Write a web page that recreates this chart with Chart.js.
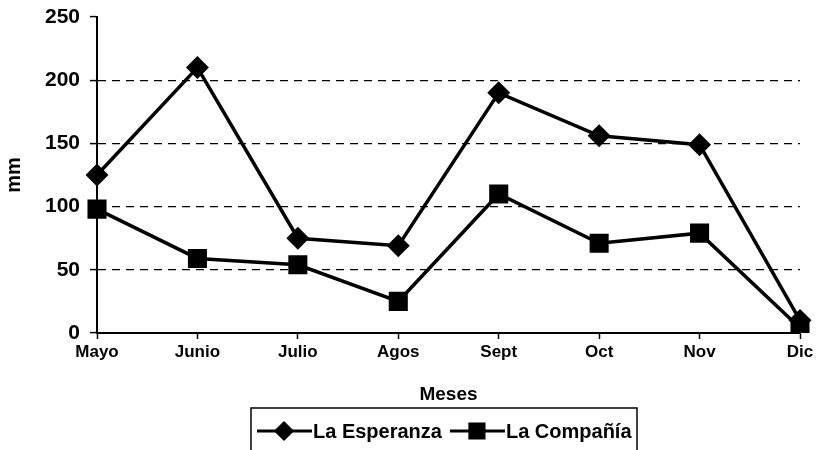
<!DOCTYPE html>
<html>
<head>
<meta charset="utf-8">
<script src="https://cdn.jsdelivr.net/npm/chart.js@4.4.1/dist/chart.umd.min.js"></script>
<style>
    html, body { margin: 0; padding: 0; background: #fff; }
    #wrap { width: 817px; height: 450px; }
</style>
</head>
<body>
<div id="wrap"><canvas id="chart1" width="817" height="450"></canvas></div>
<script>
const months = ['Mayo', 'Junio', 'Julio', 'Agos', 'Sept', 'Oct', 'Nov', 'Dic'];
const esperanza = [125, 210, 75, 69, 190, 156, 149, 10];
const compania = [98, 59, 54, 25, 110, 71, 79, 4];
const yTicks = [0, 50, 100, 150, 200, 250];

const FONT = 'Liberation Sans, Arial, sans-serif';

// legend drawn under the axis title: line + marker + label, inside a box
const boxLegend = {
    id: 'boxLegend',
    afterDraw(chart) {
        const ctx = chart.ctx;
        const top = 408;
        ctx.save();
        ctx.strokeStyle = '#000';
        ctx.lineWidth = 1.5;
        ctx.strokeRect(251, top, 386, 60);
        ctx.font = 'bold 20px ' + FONT;
        ctx.textBaseline = 'middle';
        ctx.fillStyle = '#000';
        let x = 257;
        const y = 431;
        chart.data.datasets.forEach(ds => {
            ctx.beginPath();
            ctx.lineWidth = 3;
            ctx.moveTo(x, y);
            ctx.lineTo(x + 55, y);
            ctx.stroke();
            Chart.helpers.drawPoint(ctx, {
                pointStyle: ds.pointStyle,
                radius: ds.pointStyle === 'rect' ? 10 : 8,
                borderWidth: 1
            }, x + 27, y);
            ctx.fillText(ds.label, x + 56, y + 1);
            x += 56 + ctx.measureText(ds.label).width + 8;
        });
        ctx.restore();
    }
};

const ctx1 = document.getElementById('chart1');
const chart1 = new Chart(ctx1, {
    type: 'line',
    data: {
        labels: months,
        datasets: [{
            label: 'La Esperanza',
            data: esperanza,
            borderColor: '#000',
            backgroundColor: '#000',
            borderWidth: 3.5,
            pointStyle: 'rectRot',
            pointRadius: 9,
            pointHoverRadius: 9,
            tension: 0
        }, {
            label: 'La Compañía',
            data: compania,
            borderColor: '#000',
            backgroundColor: '#000',
            borderWidth: 3.5,
            pointStyle: 'rect',
            pointRadius: 11,
            pointHoverRadius: 11,
            tension: 0
        }]
    },
    options: {
        responsive: false,
        animation: false,
        layout: {
            padding: {top: 17, right: 17, bottom: 44, left: 0}
        },
        plugins: {
            legend: {display: false},
            tooltip: {enabled: false}
        },
        scales: {
            x: {
                offset: false,
                grid: {
                    drawOnChartArea: false,
                    tickLength: 6,
                    tickColor: '#000',
                    tickWidth: 1.5
                },
                border: {color: '#000', width: 2},
                ticks: {
                    color: '#000',
                    padding: 3,
                    maxRotation: 0,
                    font: {family: FONT, size: 17, weight: 'bold'}
                },
                title: {
                    display: true,
                    text: 'Meses',
                    color: '#000',
                    padding: 0,
                    font: {family: FONT, size: 19, weight: 'bold'}
                },
                afterFit: scale => { scale.height = 73; }
            },
            y: {
                min: 0,
                max: 250,
                afterBuildTicks: scale => {
                    scale.ticks = yTicks.map(v => ({value: v}));
                },
                grid: {
                    color: c => (c.tick && (c.tick.value === 0 || c.tick.value === 250)) ? 'rgba(0,0,0,0)' : '#000',
                    lineWidth: 1.2,
                    tickLength: 7,
                    tickColor: '#000',
                    tickWidth: 1.5,
                    tickBorderDash: []
                },
                border: {color: '#000', width: 2, dash: [8, 6]},
                ticks: {
                    color: '#000',
                    padding: 10,
                    font: {family: FONT, size: 21, weight: 'bold'}
                },
                title: {
                    display: true,
                    text: 'mm',
                    color: '#000',
                    padding: {top: 2, bottom: 0},
                    font: {family: FONT, size: 20, weight: 'bold'}
                },
                afterFit: scale => {
                    scale.width = 97;
                    scale.paddingTop = 0;
                    scale.paddingBottom = 0;
                }
            }
        }
    },
    plugins: [boxLegend]
});
</script>
</body>
</html>
